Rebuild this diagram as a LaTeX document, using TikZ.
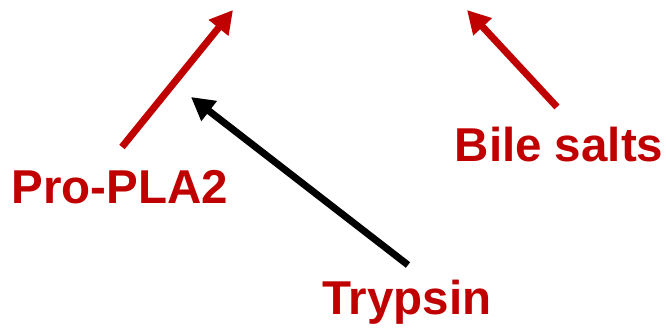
\documentclass[tikz,border=0pt]{standalone}
\usepackage{fontspec}
\setmainfont{Liberation Sans}
\usetikzlibrary{arrows.meta}
\definecolor{darkred}{HTML}{C00000}
\begin{document}
\begin{tikzpicture}[x=1pt,y=-1pt,
  lbl/.style={text=darkred,font=\fontsize{47.5}{52}\selectfont\bfseries,inner sep=0pt,anchor=base},
  arr/.style={line width=7pt,-{Triangle[width=24pt,length=23pt]}}]
\useasboundingbox (0,0) rectangle (666,334);
\node[lbl] (pro) at (120,203) {Pro-PLA2};
\node[lbl] (bile) at (559,161) {Bile salts};
\node[lbl] (tryp) at (407,314) {Trypsin};
\coordinate (a1s) at (122,147);
\coordinate (a1e) at (233,10);
\coordinate (a2s) at (408,265);
\coordinate (a2e) at (191,97);
\coordinate (a3s) at (557,107);
\coordinate (a3e) at (467,10);
\draw[arr,darkred] (a1s) -- (a1e);
\draw[arr,black] (a2s) -- (a2e);
\draw[arr,darkred] (a3s) -- (a3e);
\end{tikzpicture}
\end{document}
